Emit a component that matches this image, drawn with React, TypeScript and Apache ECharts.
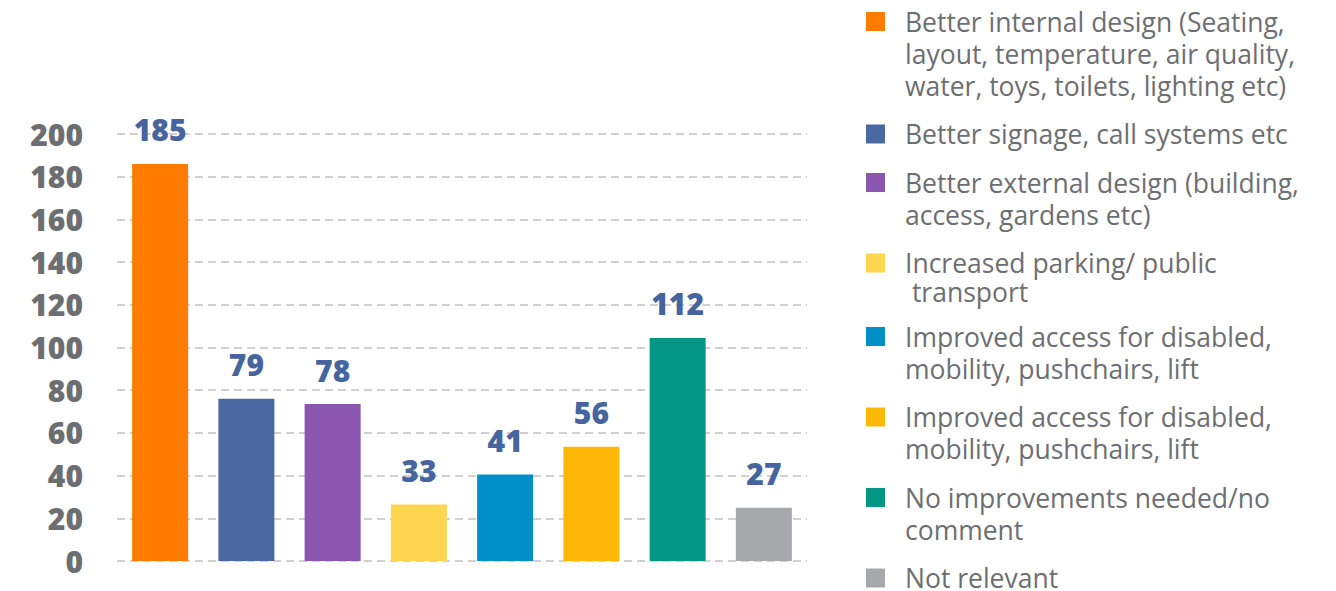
import React, { useEffect, useRef } from "react";
import * as echarts from "echarts";

// ---- data ----
const categories: string[] = [
  "Better internal design (Seating,\nlayout, temperature, air quality,\nwater, toys, toilets, lighting etc)",
  "Better signage, call systems etc",
  "Better external design (building,\naccess, gardens etc)",
  "Increased parking/ public\n transport",
  "Improved access for disabled,\nmobility, pushchairs, lift",
  "Improved access for disabled,\nmobility, pushchairs, lift",
  "No improvements needed/no\ncomment",
  "Not relevant",
];
// bar heights as drawn in the picture
const barValues: number[] = [186, 76, 73.5, 26.5, 40.5, 53.5, 104.5, 25];
// printed value labels
const labelValues: number[] = [185, 79, 78, 33, 41, 56, 112, 27];
const colors: string[] = [
  "#FF7C00",
  "#4A69A0",
  "#8A56B0",
  "#FDD54F",
  "#008FC6",
  "#FDB808",
  "#029686",
  "#A7A8AB",
];
const yTicks = { min: 0, max: 200, interval: 20 };

const FONT = "'Open Sans', 'Noto Sans', sans-serif";
const GRAY = "#6D6E71";

export default function App() {
  const ref = useRef<HTMLDivElement>(null);

  useEffect(() => {
    document.body.style.margin = "0";
    if (!ref.current) return;
    const chart = echarts.init(ref.current, undefined, { renderer: "svg" });

    // legend built from the categories / colors
    const graphic: any[] = [];
    let center = 21.5;
    categories.forEach((txt, i) => {
      const lines = txt.split("\n").length;
      const lh = txt.startsWith("Increased") ? 28.5 : 32;
      graphic.push({
        type: "rect",
        left: 866,
        top: center - 9.5,
        shape: { width: 19, height: 19 },
        style: { fill: colors[i] },
        silent: true,
      });
      graphic.push({
        type: "text",
        left: 905,
        top: center - lh / 2,
        style: {
          text: txt,
          fill: GRAY,
          font: `26.5px ${FONT}`,
          lineHeight: lh,
          verticalAlign: "top",
        },
        silent: true,
      });
      center += lines * lh + 16.5;
    });

    chart.setOption({
      animation: false,
      textStyle: { fontFamily: FONT },
      grid: { left: 117, right: 529, top: 134, bottom: 30, containLabel: false },
      xAxis: {
        type: "category",
        data: categories,
        axisLine: { show: false },
        axisTick: { show: false },
        axisLabel: { show: false },
        splitLine: { show: false },
      },
      yAxis: {
        type: "value",
        min: yTicks.min,
        max: yTicks.max,
        interval: yTicks.interval,
        axisLine: { show: false },
        axisTick: { show: false },
        axisLabel: {
          margin: 34,
          color: GRAY,
          fontSize: 30,
          fontWeight: 800,
          fontFamily: FONT,
        },
        splitLine: {
          show: true,
          lineStyle: { color: "#D0D0D0", type: [8, 5], width: 2 },
        },
      },
      series: [
        {
          type: "bar",
          barWidth: 56,
          data: barValues.map((v, i) => ({ value: v, itemStyle: { color: colors[i] } })),
          label: {
            show: true,
            position: "top",
            distance: 19,
            color: "#46649E",
            fontSize: 30,
            fontWeight: 800,
            fontFamily: FONT,
            formatter: (p: any) => String(labelValues[p.dataIndex]),
          },
        },
      ],
      graphic,
    });

    return () => chart.dispose();
  }, []);

  return <div ref={ref} style={{ width: 1336, height: 591 }} />;
}
